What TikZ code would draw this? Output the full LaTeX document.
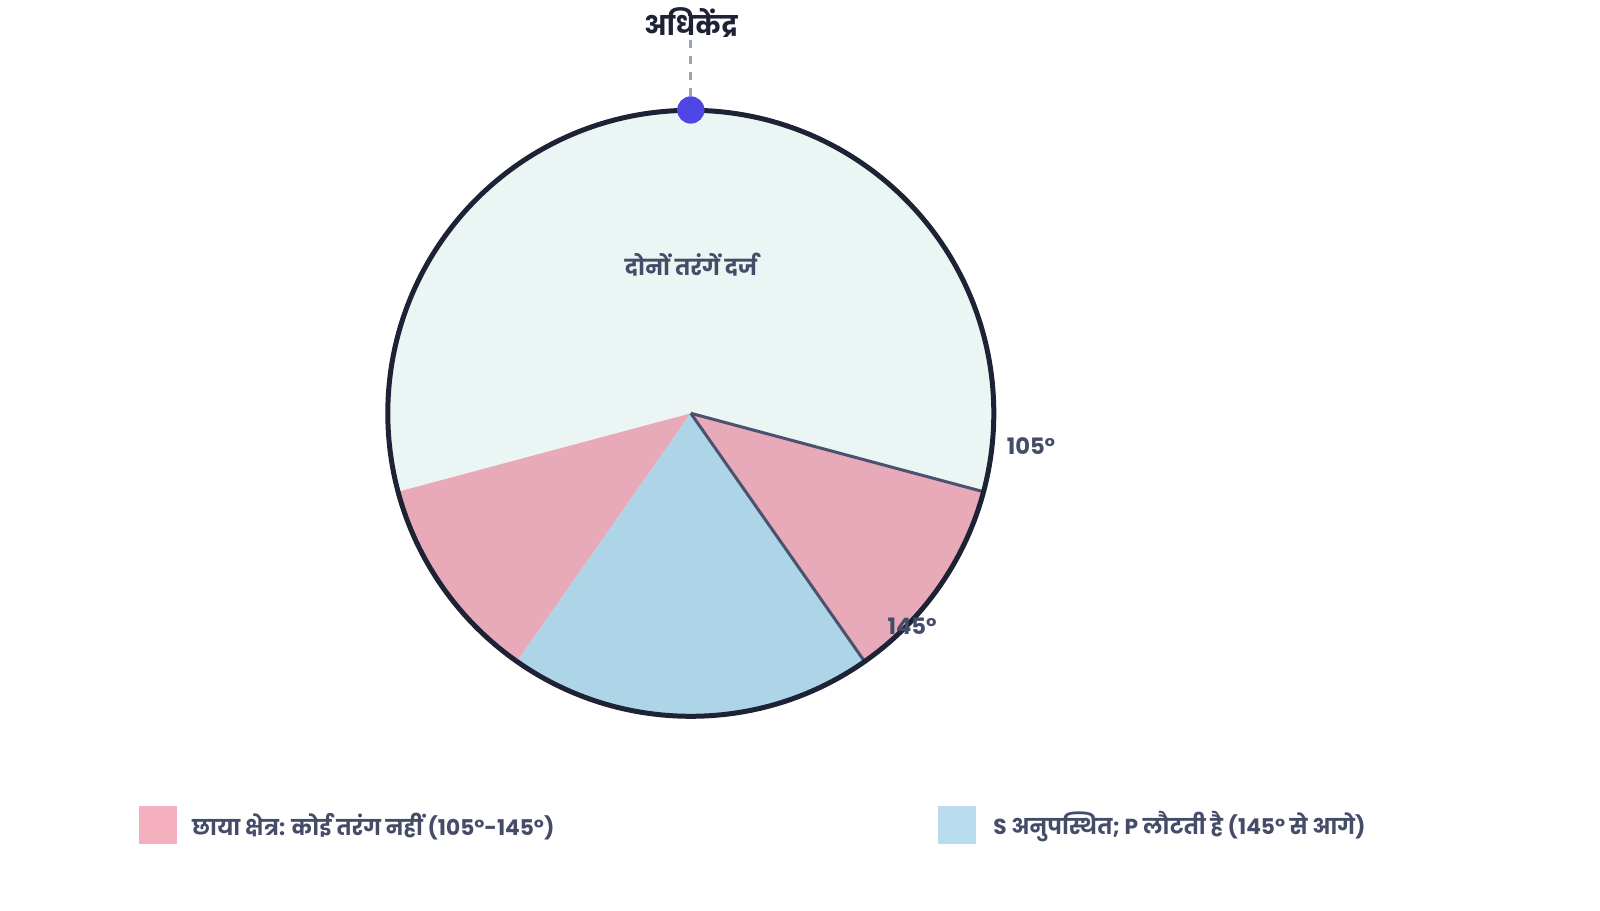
\documentclass[tikz,border=0pt]{standalone}
\usepackage{fontspec}
\usetikzlibrary{calc}
\newfontfamily\dev[Script=Devanagari]{Poppins}
\definecolor{mint}{HTML}{EBF5F3}
\definecolor{wedgepink}{HTML}{E8AAB8}
\definecolor{wedgeblue}{HTML}{ADD5E7}
\definecolor{legpink}{HTML}{F4B0BF}
\definecolor{legblue}{HTML}{B9DDEF}
\definecolor{rim}{HTML}{1E2235}
\definecolor{spoke}{HTML}{4A5270}
\definecolor{labelc}{HTML}{454C68}
\definecolor{dotc}{HTML}{4F46E5}
\definecolor{dashc}{HTML}{94A3B8}
\begin{document}
\begin{tikzpicture}[x=0.5pt,y=0.5pt,
  lbl/.style={font=\dev\bfseries\fontsize{11}{13}\selectfont, text=labelc, inner sep=0pt},
  deg/.style={font=\dev\bfseries\fontsize{11.3}{13}\selectfont, text=labelc, inner sep=0pt},
  legtext/.style={font=\dev\bfseries\fontsize{10.85}{13}\selectfont, text=labelc, inner sep=0pt, anchor=west},
  spokeline/.style={draw=spoke, line width=1.5pt},
]
\useasboundingbox (0,0) rectangle (1600,910);
\coordinate (C) at (690.8,496.7);
\def\R{303}
\fill[mint] (C) -- ++(-15:\R) arc[start angle=-15,end angle=195,radius=\R] -- cycle;
\fill[wedgepink] (C) -- ++(-55:\R) arc[start angle=-55,end angle=-15,radius=\R] -- cycle;
\fill[wedgepink] (C) -- ++(195:\R) arc[start angle=195,end angle=235,radius=\R] -- cycle;
\fill[wedgeblue] (C) -- ++(235:\R) arc[start angle=235,end angle=305,radius=\R] -- cycle;
\coordinate (P105) at ($(C)+(-15:\R)$);
\coordinate (P145) at ($(C)+(-55:\R)$);
\draw[spokeline] (C) -- (P105);
\draw[spokeline] (C) -- (P145);
\draw[rim, line width=2.5pt] (C) circle[radius=\R];
\coordinate (top) at (690.8,870);
\node[circle, fill=dotc, minimum size=13.5pt, inner sep=0pt] (epi) at (690.8,800) {};
\draw[dashc, line width=1.5pt, dash pattern=on 4pt off 4pt] (top) -- (epi.center);
\node[circle, fill=dotc, minimum size=13.5pt, inner sep=0pt] at (epi) {};
\node[font=\dev\bfseries\fontsize{13.5}{15}\selectfont, text=rim, inner sep=0pt] (title) at (690.8,887) {अधिकेंद्र};
\node[lbl] (both) at (690.8,645.5) {दोनों तरंगें दर्ज};
\node[deg] (d105) at (1031,463.5) {105°};
\node[deg] (d145) at (912,283.5) {145°};
\fill[legpink] (138.8,66) rectangle (176.5,104);
\node[legtext] (leg1) at (191.8,83.5) {छाया क्षेत्र: कोई तरंग नहीं (105°-145°)};
\fill[legblue] (937.8,66) rectangle (975.5,104);
\node[legtext] (leg2) at (992.9,83.5) {S अनुपस्थित; P लौटती है (145° से आगे)};
\end{tikzpicture}
\end{document}
